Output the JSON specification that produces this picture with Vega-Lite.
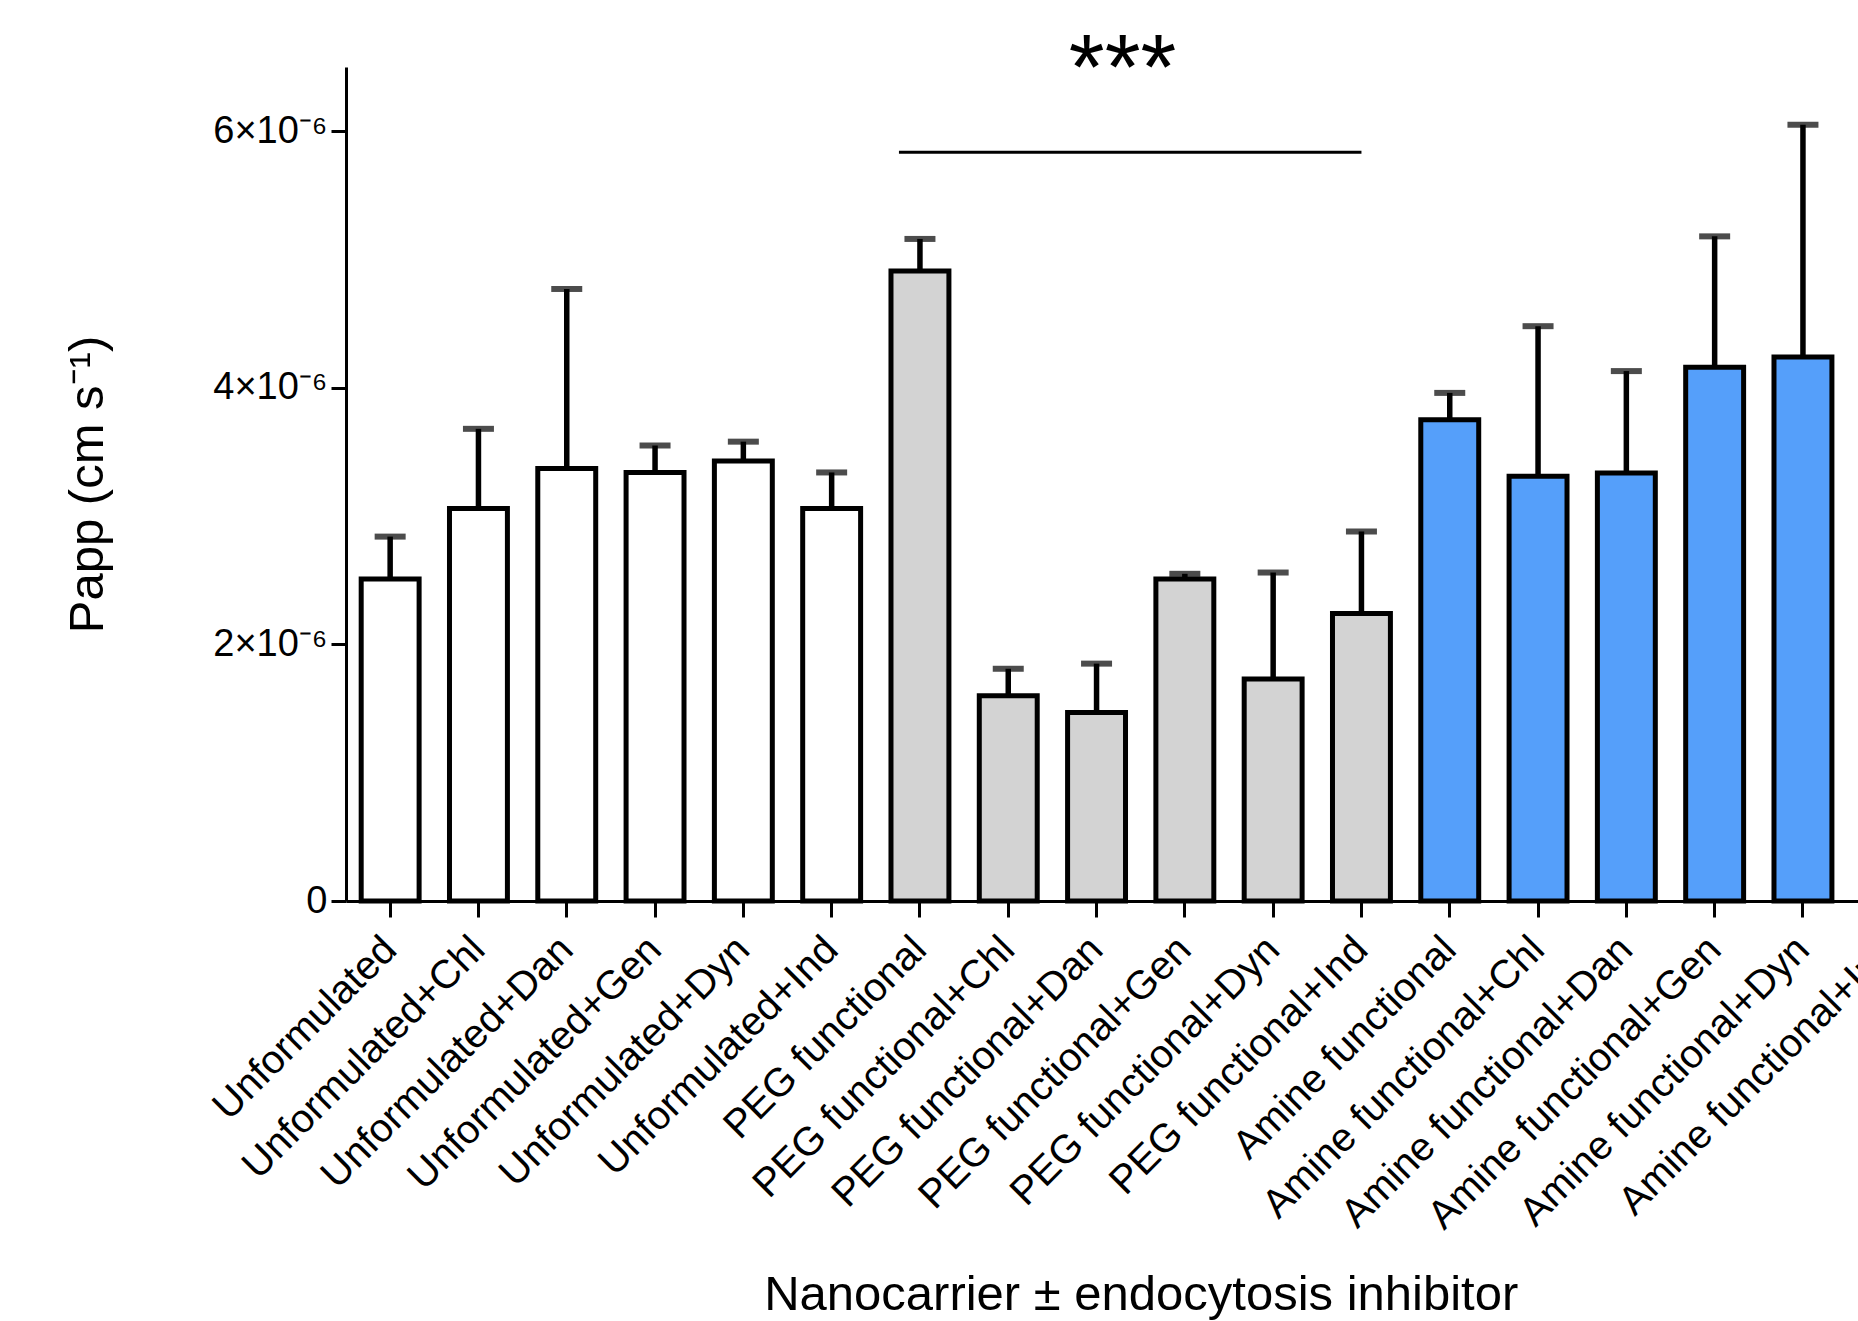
{
  "$schema": "https://vega.github.io/schema/vega-lite/v6.json",
  "width": 1512,
  "height": 834,
  "autosize": {"type": "none"},
  "padding": {"left": 346, "top": 67, "right": 0, "bottom": 420},
  "background": "white",
  "config": {
    "font": "Liberation Sans",
    "view": {"stroke": null},
    "axis": {"domainColor": "black", "tickColor": "black", "labelColor": "black", "titleColor": "black", "grid": false, "titleFontWeight": "normal"}
  },
  "datasets": {
    "bars": [
      {"name": "Unformulated", "group": "Unformulated", "mean": 0.00000251, "upper": 0.00000284},
      {"name": "Unformulated+Chl", "group": "Unformulated", "mean": 0.00000306, "upper": 0.00000368},
      {"name": "Unformulated+Dan", "group": "Unformulated", "mean": 0.00000337, "upper": 0.00000477},
      {"name": "Unformulated+Gen", "group": "Unformulated", "mean": 0.00000334, "upper": 0.00000355},
      {"name": "Unformulated+Dyn", "group": "Unformulated", "mean": 0.00000343, "upper": 0.00000358},
      {"name": "Unformulated+Ind", "group": "Unformulated", "mean": 0.00000306, "upper": 0.00000334},
      {"name": "PEG functional", "group": "PEG", "mean": 0.00000491, "upper": 0.00000516},
      {"name": "PEG functional+Chl", "group": "PEG", "mean": 0.0000016, "upper": 0.00000181},
      {"name": "PEG functional+Dan", "group": "PEG", "mean": 0.00000147, "upper": 0.00000185},
      {"name": "PEG functional+Gen", "group": "PEG", "mean": 0.00000251, "upper": 0.00000255},
      {"name": "PEG functional+Dyn", "group": "PEG", "mean": 0.00000173, "upper": 0.00000256},
      {"name": "PEG functional+Ind", "group": "PEG", "mean": 0.00000224, "upper": 0.00000288},
      {"name": "Amine functional", "group": "Amine", "mean": 0.00000375, "upper": 0.00000396},
      {"name": "Amine functional+Chl", "group": "Amine", "mean": 0.00000331, "upper": 0.00000448},
      {"name": "Amine functional+Dan", "group": "Amine", "mean": 0.000003335, "upper": 0.00000413},
      {"name": "Amine functional+Gen", "group": "Amine", "mean": 0.00000416, "upper": 0.00000518},
      {"name": "Amine functional+Dyn", "group": "Amine", "mean": 0.00000424, "upper": 0.00000605},
      {"name": "Amine functional+Ind", "group": "Amine", "mean": 0.0000035, "upper": 0.000004}
    ],
    "sig": [
      {"from": "PEG functional", "to": "PEG functional+Ind", "y": 0.000005835, "mid": "PEG functional+Dan", "ty": 0.00000625, "label": "***"}
    ]
  },
  "encoding": {
    "x": {
      "field": "name",
      "type": "nominal",
      "sort": null,
      "scale": {
        "domain": ["Unformulated", "Unformulated+Chl", "Unformulated+Dan", "Unformulated+Gen", "Unformulated+Dyn", "Unformulated+Ind", "PEG functional", "PEG functional+Chl", "PEG functional+Dan", "PEG functional+Gen", "PEG functional+Dyn", "PEG functional+Ind", "Amine functional", "Amine functional+Chl", "Amine functional+Dan", "Amine functional+Gen", "Amine functional+Dyn", "Amine functional+Ind"],
        "range": [0, 1589.4],
        "paddingInner": 0.344,
        "paddingOuter": 0.172
      },
      "axis": {
        "title": "Nanocarrier ± endocytosis inhibitor",
        "titleFontSize": 49,
        "titleBaseline": "alphabetic",
        "titleY": 408,
        "labelAngle": -45,
        "labelAlign": "right",
        "labelBaseline": "middle",
        "labelFontSize": 40,
        "labelPadding": 26,
        "labelOverlap": false,
        "labelLimit": 0,
        "labelBound": false,
        "tickSize": 16,
        "tickWidth": 3,
        "domainWidth": 3
      }
    }
  },
  "layer": [
    {
      "data": {"name": "bars"},
      "mark": {"type": "bar", "stroke": "black", "strokeWidth": 5},
      "encoding": {
        "y": {
          "field": "mean",
          "type": "quantitative",
          "scale": {"domain": [0, 0.0000065], "nice": false, "zero": true},
          "axis": {
            "values": [0, 0.000002, 0.000004, 0.000006],
            "labelExpr": "datum.value == 0 ? '0' : format(round(datum.value * 1e6), 'd') + '×10⁻⁶'",
            "labelFontSize": 38,
            "labelPadding": 4,
            "tickSize": 15,
            "tickWidth": 3,
            "domainWidth": 3,
            "title": "Papp (cm s⁻¹)",
            "titleFontSize": 49,
            "titlePadding": 100
          }
        },
        "fill": {
          "field": "group",
          "type": "nominal",
          "scale": {"domain": ["Unformulated", "PEG", "Amine"], "range": ["#ffffff", "#d3d3d3", "#559ffa"]},
          "legend": null
        }
      }
    },
    {
      "data": {"name": "bars"},
      "mark": {"type": "rule", "color": "black", "strokeWidth": 5.5},
      "encoding": {
        "y": {"field": "mean", "type": "quantitative"},
        "y2": {"field": "upper"}
      }
    },
    {
      "data": {"name": "bars"},
      "mark": {"type": "tick", "color": "black", "size": 31, "thickness": 6, "orient": "horizontal"},
      "encoding": {
        "y": {"field": "upper", "type": "quantitative"}
      }
    },
    {
      "data": {"name": "sig"},
      "mark": {"type": "rule", "color": "black", "strokeWidth": 3, "xOffset": -21},
      "encoding": {
        "x": {"field": "from", "type": "nominal"},
        "x2": {"field": "to"},
        "y": {"field": "y", "type": "quantitative"}
      }
    },
    {
      "data": {"name": "sig"},
      "mark": {"type": "text", "fontSize": 92, "dx": 26, "baseline": "alphabetic", "align": "center", "color": "black"},
      "encoding": {
        "x": {"field": "mid", "type": "nominal"},
        "y": {"field": "ty", "type": "quantitative"},
        "text": {"field": "label"}
      }
    }
  ]
}
